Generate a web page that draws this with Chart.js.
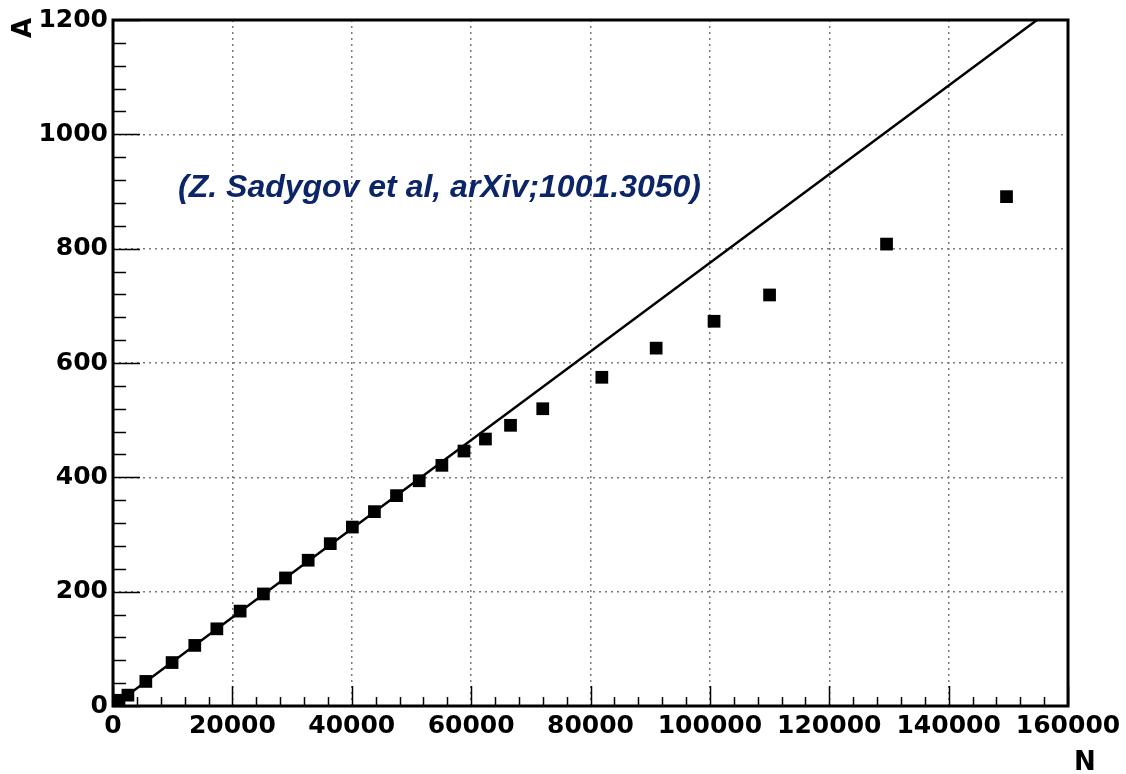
<!DOCTYPE html>
<html>
<head>
<meta charset="utf-8">
<script src="https://cdn.jsdelivr.net/npm/chart.js@4/dist/chart.umd.min.js"></script>
<style>
  html, body { margin: 0; padding: 0; background: #fff; }
  #wrap { width: 1126px; height: 774px; }
</style>
</head>
<body>
<div id="wrap"><canvas id="amp_chart" width="1126" height="774"></canvas></div>
<script>
// measured points, N (pixels fired) vs A (amplitude)
const N_VALUES = [300, 1000, 2500, 5500, 9900, 13700, 17400, 21300, 25200, 28900, 32700, 36400,
  40100, 43800, 47500, 51300, 55100, 58800, 62400, 66600, 72000, 81900, 91000, 100700,
  110000, 129600, 149700];
const A_VALUES = [4, 10, 19, 43, 76, 106, 135, 166, 196, 224, 255, 284,
  313, 340, 368, 394, 421, 446, 467, 491, 520, 575, 626, 673,
  719, 808, 891];

// straight line (linear fit) end points
const FIT_N = [0, 154800];
const FIT_A = [0, 1200];

const X_TICKS = [0, 20000, 40000, 60000, 80000, 100000, 120000, 140000, 160000];
const Y_TICKS = [0, 200, 400, 600, 800, 1000, 1200];

const NOTE_TEXT = "(Z. Sadygov et al, arXiv;1001.3050)";
const X_TITLE = "N";
const Y_TITLE = "A";

const TICK_FONT = { family: "DejaVu Sans", size: 25, weight: "bold" };

// ROOT style frame, inner ticks, titles and note
const rootFrame = {
  id: "rootFrame",
  afterDraw(chart) {
    const ctx = chart.ctx;
    const area = chart.chartArea;
    const xs = chart.scales.x;
    const ys = chart.scales.y;
    ctx.save();
    ctx.strokeStyle = "#000";

    // minor / major ticks on x
    ctx.lineWidth = 1.5;
    for (let v = 0; v <= X_TICKS[X_TICKS.length - 1]; v += 4000) {
      const px = Math.round(xs.getPixelForValue(v)) + 0.5;
      const len = (v % 20000 === 0) ? 20 : 9;
      ctx.beginPath();
      ctx.moveTo(px, area.bottom);
      ctx.lineTo(px, area.bottom - len);
      ctx.stroke();
    }
    // minor / major ticks on y
    for (let v = 0; v <= Y_TICKS[Y_TICKS.length - 1]; v += 40) {
      const py = Math.round(ys.getPixelForValue(v)) + 0.5;
      const len = (v % 200 === 0) ? 27 : 13;
      ctx.beginPath();
      ctx.moveTo(area.left, py);
      ctx.lineTo(area.left + len, py);
      ctx.stroke();
    }

    // frame
    ctx.lineWidth = 3;
    ctx.strokeRect(area.left, area.top, area.right - area.left, area.bottom - area.top);

    // axis titles
    ctx.fillStyle = "#000";
    ctx.font = "bold 26px 'DejaVu Sans'";
    ctx.textAlign = "center";
    ctx.textBaseline = "middle";
    ctx.fillText(X_TITLE, area.right + 17, area.bottom + 57);
    ctx.save();
    ctx.translate(area.left - 89, area.top + 8);
    ctx.rotate(-Math.PI / 2);
    ctx.fillText(Y_TITLE, 0, 0);
    ctx.restore();

    // note
    ctx.fillStyle = "#0c2568";
    ctx.font = "italic bold 32px 'Liberation Sans'";
    ctx.textAlign = "left";
    ctx.textBaseline = "alphabetic";
    ctx.fillText(NOTE_TEXT, xs.getPixelForValue(10900), ys.getPixelForValue(890));
    ctx.restore();
  }
};

function setup_chart() {
  const ctx = document.getElementById("amp_chart").getContext("2d");

  const points = N_VALUES.map((n, i) => ({ x: n, y: A_VALUES[i] }));
  const fit = FIT_N.map((n, i) => ({ x: n, y: FIT_A[i] }));

  new Chart(ctx, {
    type: "scatter",
    data: {
      datasets: [
        {
          type: "line",
          data: fit,
          borderColor: "#000",
          borderWidth: 2.5,
          pointRadius: 0,
          fill: false
        },
        {
          data: points,
          pointStyle: "rect",
          pointRadius: 9,
          pointHoverRadius: 9,
          backgroundColor: "#000",
          borderWidth: 0
        }
      ]
    },
    options: {
      responsive: false,
      animation: false,
      devicePixelRatio: 1,
      layout: { padding: { left: 30, right: 58, top: 16, bottom: 0 } },
      plugins: { legend: { display: false }, tooltip: { enabled: false } },
      scales: {
        x: {
          type: "linear",
          min: 0,
          max: 160000,
          afterBuildTicks: (scale) => { scale.ticks = X_TICKS.map(v => ({ value: v })); },
          afterFit: (scale) => { scale.height = 68; },
          ticks: {
            color: "#000",
            font: TICK_FONT,
            padding: 5,
            maxRotation: 0,
            callback: (v) => String(v)
          },
          grid: { color: "#7a7a7a", lineWidth: 1.5, drawTicks: false },
          border: { display: false, dash: [2, 4] }
        },
        y: {
          type: "linear",
          min: 0,
          max: 1200,
          afterBuildTicks: (scale) => { scale.ticks = Y_TICKS.map(v => ({ value: v })); },
          afterFit: (scale) => { scale.width = 83; },
          ticks: {
            color: "#000",
            font: TICK_FONT,
            padding: 5,
            callback: (v) => String(v)
          },
          grid: { color: "#7a7a7a", lineWidth: 1.5, drawTicks: false },
          border: { display: false, dash: [2, 4] }
        }
      }
    },
    plugins: [rootFrame]
  });
}

(() => {
  setup_chart();
})()
</script>
</body>
</html>
